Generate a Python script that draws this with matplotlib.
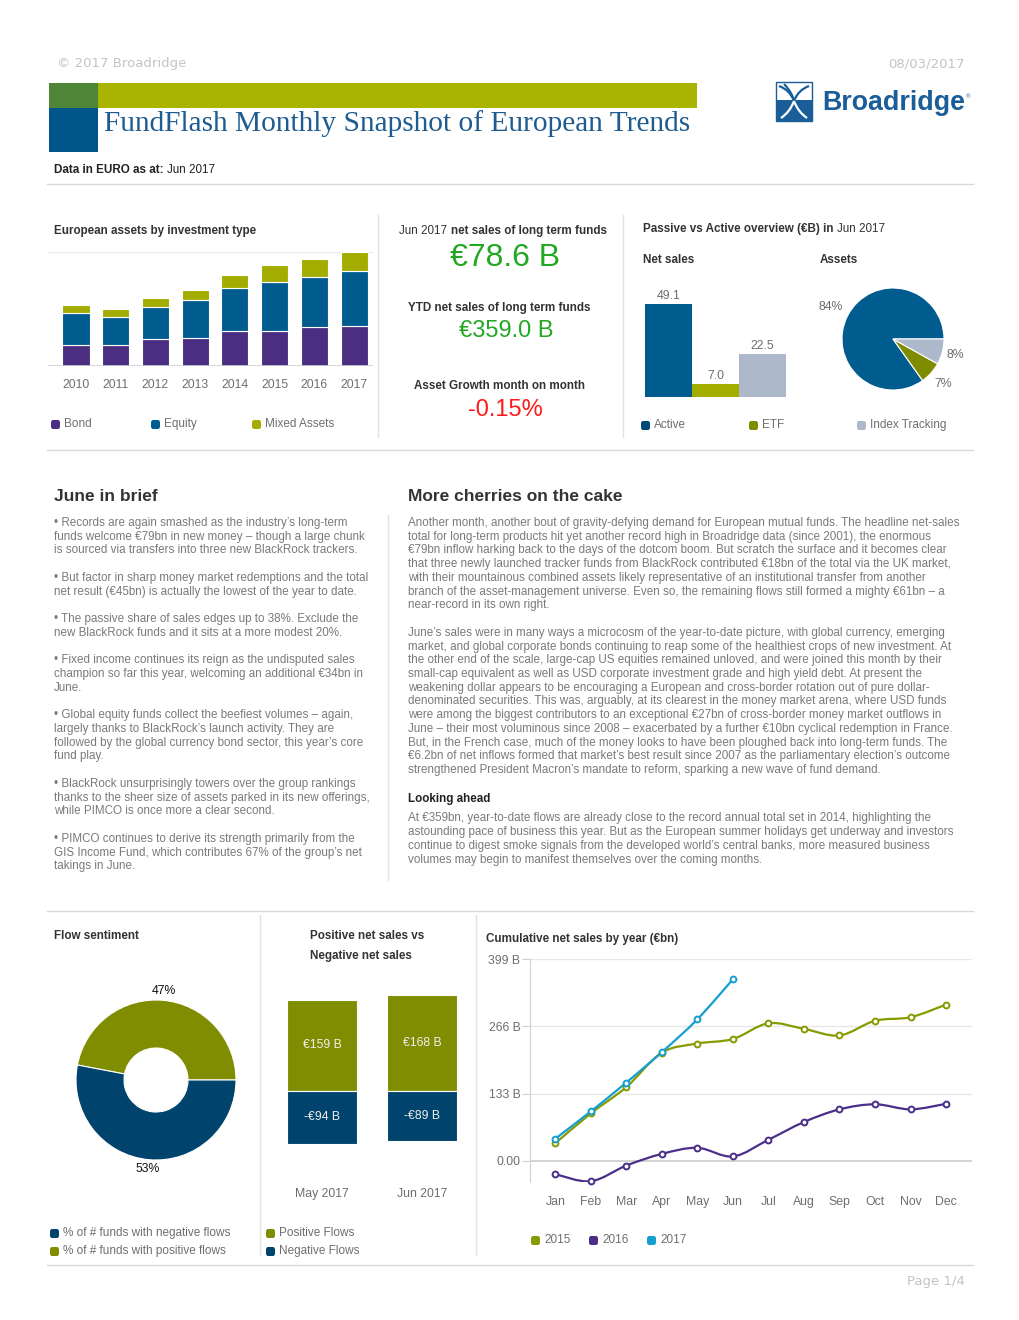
import numpy as np
import matplotlib
matplotlib.use("Agg")
import matplotlib.pyplot as plt
from matplotlib.patches import Rectangle, FancyBboxPatch, PathPatch
from matplotlib.path import Path
from matplotlib.lines import Line2D
from matplotlib.transforms import Bbox

# ---------------- data ----------------
asset_years = ['2010', '2011', '2012', '2013', '2014', '2015', '2016', '2017']
bond = [1130, 1130, 1430, 1500, 1820, 1855, 2030, 2120]
equity = [1660, 1450, 1660, 1960, 2280, 2540, 2630, 2860]
mixed = [405, 405, 475, 565, 705, 935, 990, 1020]
asset_names = ['Bond', 'Equity', 'Mixed Assets']

ps_names = ['Active', 'ETF', 'Index Tracking']
ps_net_sales = [49.1, 7.0, 22.5]
ps_assets = [84, 7, 8]

month_sales = '€78.6 B'
ytd_sales = '€359.0 B'
asset_growth = '-0.15%'

sentiment_names = ['% of # funds with positive flows', '% of # funds with negative flows']
sentiment_pct = [47, 53]

flow_months = ['May 2017', 'Jun 2017']
positive_flows = [159, 168]
negative_flows = [-94, -89]

months = ['Jan', 'Feb', 'Mar', 'Apr', 'May', 'Jun', 'Jul', 'Aug', 'Sep', 'Oct', 'Nov', 'Dec']
cum_2015 = [35, 94, 146, 214, 232, 241, 272, 261, 248, 277, 284, 309]
cum_2016 = [-26, -40, -9, 14, 26, 9, 42, 77, 102, 112, 102, 113]
cum_2017 = [44, 98, 155, 215, 280, 359]
cum_ticks = [0, 133, 266, 399]
cum_ticklabels = ['0.00', '133 B', '266 B', '399 B']

brief_lines = [
    "• Records are again smashed as the industry’s long-term",
    "funds welcome €79bn in new money – though a large chunk",
    "is sourced via transfers into three new BlackRock trackers.",
    "",
    "• But factor in sharp money market redemptions and the total",
    "net result (€45bn) is actually the lowest of the year to date.",
    "",
    "• The passive share of sales edges up to 38%. Exclude the",
    "new BlackRock funds and it sits at a more modest 20%.",
    "",
    "• Fixed income continues its reign as the undisputed sales",
    "champion so far this year, welcoming an additional €34bn in",
    "June.",
    "",
    "• Global equity funds collect the beefiest volumes – again,",
    "largely thanks to BlackRock’s launch activity. They are",
    "followed by the global currency bond sector, this year’s core",
    "fund play.",
    "",
    "• BlackRock unsurprisingly towers over the group rankings",
    "thanks to the sheer size of assets parked in its new offerings,",
    "while PIMCO is once more a clear second.",
    "",
    "• PIMCO continues to derive its strength primarily from the",
    "GIS Income Fund, which contributes 67% of the group’s net",
    "takings in June.",
]

cherries_lines = [
    "Another month, another bout of gravity-defying demand for European mutual funds. The headline net-sales",
    "total for long-term products hit yet another record high in Broadridge data (since 2001), the enormous",
    "€79bn inflow harking back to the days of the dotcom boom. But scratch the surface and it becomes clear",
    "that three newly launched tracker funds from BlackRock contributed €18bn of the total via the UK market,",
    "with their mountainous combined assets likely representative of an institutional transfer from another",
    "branch of the asset-management universe. Even so, the remaining flows still formed a mighty €61bn – a",
    "near-record in its own right.",
    "",
    "June’s sales were in many ways a microcosm of the year-to-date picture, with global currency, emerging",
    "market, and global corporate bonds continuing to reap some of the healthiest crops of new investment. At",
    "the other end of the scale, large-cap US equities remained unloved, and were joined this month by their",
    "small-cap equivalent as well as USD corporate investment grade and high yield debt. At present the",
    "weakening dollar appears to be encouraging a European and cross-border rotation out of pure dollar-",
    "denominated securities. This was, arguably, at its clearest in the money market arena, where USD funds",
    "were among the biggest contributors to an exceptional €27bn of cross-border money market outflows in",
    "June – their most voluminous since 2008 – exacerbated by a further €10bn cyclical redemption in France.",
    "But, in the French case, much of the money looks to have been ploughed back into long-term funds. The",
    "€6.2bn of net inflows formed that market’s best result since 2007 as the parliamentary election’s outcome",
    "strengthened President Macron’s mandate to reform, sparking a new wave of fund demand.",
]

ahead_lines = [
    "At €359bn, year-to-date flows are already close to the record annual total set in 2014, highlighting the",
    "astounding pace of business this year. But as the European summer holidays get underway and investors",
    "continue to digest smoke signals from the developed world’s central banks, more measured business",
    "volumes may begin to manifest themselves over the coming months.",
]

# ---------------- style ----------------
W, H = 1020, 1320
plt.rcParams['font.family'] = ['Liberation Sans', 'DejaVu Sans']

FS = 8.4          # body / heading text size
DARK = '#333333'
GRAY = '#6e6e6e'
BODY = '#7a7a7a'
SEP = '#d9d9d9'
PURPLE = '#4a2e82'
BLUE = '#005c8f'
NAVY = '#00446e'
OLIVE_L = '#a3ad00'
OLIVE = '#808d00'
LIGHTBLUE = '#adb8ca'
GREEN = '#22a822'

fig = plt.figure(figsize=(W / 100, H / 100), dpi=100)
renderer = fig.canvas.get_renderer()


def fx(x):
    return x / W


def fy(y):
    return 1 - y / H


def txt(x, y, s, **kw):
    kw.setdefault('va', 'center')
    return fig.text(fx(x), fy(y), s, **kw)


def axes_px(l, t, r, b):
    return fig.add_axes([l / W, 1 - b / H, (r - l) / W, (b - t) / H])


def hline(x0, x1, y, c=SEP, lw=1.0):
    fig.add_artist(Line2D([fx(x0), fx(x1)], [fy(y), fy(y)], color=c, lw=lw))


def vline(x, y0, y1, c='#e2e2e2', lw=1.0):
    fig.add_artist(Line2D([fx(x), fx(x)], [fy(y0), fy(y1)], color=c, lw=lw))


def rect(x0, y0, x1, y1, color):
    fig.add_artist(Rectangle((fx(x0), fy(y1)), (x1 - x0) / W, (y1 - y0) / H,
                             facecolor=color, edgecolor='none', transform=fig.transFigure))


def legend_item(x, y, color, label, size=8.5):
    fig.add_artist(FancyBboxPatch((fx(x + 1), fy(y + 5)), 9 / W, 9 / H,
                                  boxstyle='round,pad=0,rounding_size=0.002',
                                  facecolor=color, edgecolor='none', transform=fig.transFigure))
    txt(x + 14, y, label, fontsize=size, color=GRAY)


def rich(x, y, parts, size=FS, ha='left', gap=4):
    arts = []
    cur = x
    for s, w, c in parts:
        t = txt(cur, y, s, fontsize=size, fontweight=w, color=c, ha='left')
        cur += t.get_window_extent(renderer=renderer).width + gap
        arts.append(t)
    if ha == 'center':
        shift = (cur - gap - x) / 2
        for t in arts:
            px, py = t.get_position()
            t.set_position((px - shift / W, py))
    return arts


def clean(ax):
    for s in ax.spines.values():
        s.set_visible(False)
    ax.set_facecolor('none')


def smooth_path(xs, ys):
    # cubic bezier through the points (catmull-rom style control points)
    xs = np.asarray(xs, float)
    ys = np.asarray(ys, float)
    verts = [(xs[0], ys[0])]
    codes = [Path.MOVETO]
    n = len(xs)
    for i in range(n - 1):
        x0, y0 = (xs[i - 1], ys[i - 1]) if i > 0 else (xs[i], ys[i])
        x3, y3 = (xs[i + 2], ys[i + 2]) if i + 2 < n else (xs[i + 1], ys[i + 1])
        c1 = (xs[i] + (xs[i + 1] - x0) / 6, ys[i] + (ys[i + 1] - y0) / 6)
        c2 = (xs[i + 1] - (x3 - xs[i]) / 6, ys[i + 1] - (y3 - ys[i]) / 6)
        verts += [c1, c2, (xs[i + 1], ys[i + 1])]
        codes += [Path.CURVE4] * 3
    return Path(verts, codes)


# ---------------- header ----------------
txt(57, 64, '© 2017 Broadridge', fontsize=9.5, color='#c4c4c4', family='DejaVu Sans')
txt(965, 64, '08/03/2017', fontsize=9.5, color='#c4c4c4', family='DejaVu Sans', ha='right')

rect(49, 83, 98, 108, '#4f8537')
rect(98, 83, 697, 108, '#a9b400')
rect(49, 108, 98, 152, '#00558b')
txt(104, 124, 'FundFlash Monthly Snapshot of European Trends', fontsize=21.2,
    color='#1d5b90', family=['Liberation Serif', 'DejaVu Serif'])

# logo
LOGO = '#1a5e99'
fig.add_artist(Rectangle((fx(776), fy(121)), 36 / W, 39 / H, facecolor='white',
                         edgecolor=LOGO, lw=1, transform=fig.transFigure))
rect(776, 100, 812, 121, LOGO)
for (a, b, c) in [((779, 86), (790, 90), (794, 101)), ((809, 86), (798, 90), (794, 101)),
                  ((784, 84), (792, 92), (794, 101))]:
    p = Path([(fx(a[0]), fy(a[1])), (fx(b[0]), fy(b[1])), (fx(c[0]), fy(c[1]))],
             [Path.MOVETO, Path.CURVE3, Path.CURVE3])
    fig.add_artist(PathPatch(p, fill=False, edgecolor=LOGO, lw=1.6, transform=fig.transFigure))
for (a, b, c) in [((794, 101), (790, 112), (781, 118)), ((794, 101), (798, 112), (807, 118))]:
    p = Path([(fx(a[0]), fy(a[1])), (fx(b[0]), fy(b[1])), (fx(c[0]), fy(c[1]))],
             [Path.MOVETO, Path.CURVE3, Path.CURVE3])
    fig.add_artist(PathPatch(p, fill=False, edgecolor='white', lw=1.6, transform=fig.transFigure))
logo_t = txt(822, 103, 'Broadridge', fontsize=19.3, fontweight='bold', color=LOGO)
lx = 822 + logo_t.get_window_extent(renderer=renderer).width
txt(lx + 1, 97, '®', fontsize=4.5, color=LOGO)

rich(54, 170, [('Data in EURO as at:', 'bold', '#222222'), ('Jun 2017', 'normal', '#222222')], size=FS)
hline(47, 973, 184)

# ---------------- top row ----------------
txt(54, 231, 'European assets by investment type', fontsize=FS, fontweight='bold', color=DARK)
ax1 = axes_px(48, 252, 373, 366)
x1 = np.arange(len(asset_years))
ax1.bar(x1, bond, 0.68, color=PURPLE, edgecolor='white', lw=0.8)
ax1.bar(x1, equity, 0.68, bottom=bond, color=BLUE, edgecolor='white', lw=0.8)
ax1.bar(x1, mixed, 0.68, bottom=np.add(bond, equity), color=OLIVE_L, edgecolor='white', lw=0.8)
ax1.set_xlim(-0.705, 7.478)
ax1.set_ylim(0, 6000)
clean(ax1)
ax1.axhline(6000, color='#ececec', lw=1, zorder=0)
ax1.axhline(0, color='#cfcfcf', lw=1.2, zorder=3)
ax1.set_yticks([])
ax1.set_xticks(x1)
ax1.set_xticklabels(asset_years, fontsize=8.8, color=GRAY)
ax1.tick_params(axis='x', length=0, pad=9)
for xx, name, col in zip([50, 150, 251], asset_names, [PURPLE, BLUE, OLIVE_L]):
    legend_item(xx, 424, col, name)

vline(378, 215, 437)
vline(623, 215, 437)

rich(503, 231, [('Jun 2017', 'normal', DARK), ('net sales of long term funds', 'bold', DARK)],
     size=FS, ha='center')
txt(505, 258, month_sales, fontsize=23, color=GREEN, ha='center')
txt(499, 308, 'YTD net sales of long term funds', fontsize=FS, fontweight='bold', color=DARK, ha='center')
txt(506, 331, ytd_sales, fontsize=17, color=GREEN, ha='center')
txt(500, 386, 'Asset Growth month on month', fontsize=FS, fontweight='bold', color=DARK, ha='center')
txt(505, 410, asset_growth, fontsize=17, color='#ff1a1a', ha='center')

rich(643, 229, [('Passive vs Active overview (€B) in', 'bold', DARK), ('Jun 2017', 'normal', DARK)], size=FS)
txt(643, 260, 'Net sales', fontsize=FS, fontweight='bold', color=DARK)
txt(820, 260, 'Assets', fontsize=FS, fontweight='bold', color=DARK)

ax2 = axes_px(645, 292.8, 786, 397)
ps_cols = [BLUE, OLIVE_L, LIGHTBLUE]
ax2.bar(np.arange(3), ps_net_sales, 0.99, color=ps_cols, edgecolor='none')
for i, v in enumerate(ps_net_sales):
    ax2.annotate(f'{v:.1f}', (i, v), xytext=(0, 1.5), textcoords='offset points',
                 ha='center', va='bottom', fontsize=8.8, color=GRAY)
ax2.set_xlim(-0.5, 2.5)
ax2.set_ylim(0, 55)
clean(ax2)
ax2.set_xticks([])
ax2.set_yticks([])

ax3 = axes_px(842, 288, 944, 390)
wedges, _ = ax3.pie(ps_assets, colors=[BLUE, '#7f8c00', LIGHTBLUE], startangle=0,
                    counterclock=True, wedgeprops=dict(edgecolor='white', lw=0.8))
ax3.set_xlim(-1, 1)
ax3.set_ylim(-1, 1)
ax3.set_aspect('equal')
for w, v, d in zip(wedges, ps_assets, [1.38, 1.32, 1.26]):
    ang = np.deg2rad((w.theta1 + w.theta2) / 2)
    ax3.text(d * np.cos(ang), d * np.sin(ang), f'{v}%', ha='center', va='center',
             fontsize=8.8, color=GRAY, clip_on=False)
for xx, name, col in zip([640, 748, 856], ps_names, ['#004a78', '#7f8c00', LIGHTBLUE]):
    legend_item(xx, 425, col, name)

hline(47, 973, 450)

# ---------------- text section ----------------
txt(54, 497, 'June in brief', fontsize=12.5, fontweight='bold', color=DARK)
txt(408, 497, 'More cherries on the cake', fontsize=12.5, fontweight='bold', color=DARK)
vline(388, 515, 880)

y = 523
for line in brief_lines:
    if line:
        txt(54, y, line, fontsize=FS, color=BODY)
    y += 13.73

clip = Bbox([[0, H - 776], [W, H]])
y = 523
for line in cherries_lines:
    if line:
        t = txt(408, y, line, fontsize=FS, color=BODY)
        t.set_clip_box(clip)
        t.set_clip_on(True)
    y += 13.73

txt(408, 799, 'Looking ahead', fontsize=FS, fontweight='bold', color='#222222')
y = 818
for line in ahead_lines:
    txt(408, y, line, fontsize=FS, color=BODY)
    y += 13.9

hline(47, 973, 911)

# ---------------- bottom row ----------------
txt(54, 936, 'Flow sentiment', fontsize=FS, fontweight='bold', color=DARK)
ax4 = axes_px(76, 1000, 236, 1160)
dw, _ = ax4.pie(sentiment_pct, colors=[OLIVE, NAVY], startangle=0, counterclock=True,
                wedgeprops=dict(width=0.6, edgecolor='white', lw=0.8))
ax4.set_xlim(-1, 1)
ax4.set_ylim(-1, 1)
ax4.set_aspect('equal')
for w, v in zip(dw, sentiment_pct):
    ang = np.deg2rad((w.theta1 + w.theta2) / 2)
    ax4.text(1.12 * np.cos(ang), 1.12 * np.sin(ang), f'{v}%', ha='center', va='center',
             fontsize=8.8, color='#111111', clip_on=False)
legend_item(49, 1233, NAVY, sentiment_names[1])
legend_item(49, 1251, OLIVE, sentiment_names[0])

vline(260, 915, 1255)
vline(476, 915, 1255)

txt(310, 936, 'Positive net sales vs', fontsize=FS, fontweight='bold', color=DARK)
txt(310, 956, 'Negative net sales', fontsize=FS, fontweight='bold', color=DARK)
ax5 = axes_px(272, 991, 472, 1147.7)
x5 = np.arange(len(flow_months))
ax5.bar(x5, positive_flows, 0.7, color=OLIVE, edgecolor='white', lw=0.8)
ax5.bar(x5, negative_flows, 0.7, color=NAVY, edgecolor='white', lw=0.8)
for i in range(len(flow_months)):
    ax5.text(i, positive_flows[i] / 2, f'€{positive_flows[i]} B', ha='center', va='center',
             fontsize=8.8, color='#f0f0f0')
    ax5.text(i, negative_flows[i] / 2, f'-€{-negative_flows[i]} B', ha='center', va='center',
             fontsize=8.8, color='#f0f0f0')
ax5.set_xlim(-0.5, 1.5)
ax5.set_ylim(-100, 175)
clean(ax5)
ax5.set_yticks([])
ax5.set_xticks(x5)
ax5.set_xticklabels(flow_months, fontsize=8.8, color=GRAY)
ax5.tick_params(axis='x', length=0, pad=29)
legend_item(265, 1233, OLIVE, 'Positive Flows')
legend_item(265, 1251, NAVY, 'Negative Flows')

txt(486, 939, 'Cumulative net sales by year (€bn)', fontsize=FS, fontweight='bold', color=DARK)
ax6 = axes_px(530, 959, 972, 1182)
clean(ax6)
ax6.set_xlim(-0.712, 11.73)
ax6.set_ylim(-41.5, 399)
for t in cum_ticks[1:]:
    ax6.axhline(t, color='#e8e8e8', lw=1, zorder=0)
ax6.axhline(0, color='#cccccc', lw=1.2, zorder=0)
ax6.spines['left'].set_visible(True)
ax6.spines['left'].set_color('#d0d0d0')
ax6.set_yticks(cum_ticks)
ax6.set_yticklabels(cum_ticklabels, fontsize=8.8, color=GRAY)
ax6.tick_params(axis='y', length=6, color='#d0d0d0', pad=1)
ax6.set_xticks(np.arange(12))
ax6.set_xticklabels(months, fontsize=8.8, color=GRAY)
ax6.tick_params(axis='x', length=0, pad=10)
line_cols = ['#879a00', '#4a2e8a', '#149fd0']
for series, col in zip([cum_2015, cum_2016, cum_2017], line_cols):
    xs = np.arange(len(series))
    ax6.add_patch(PathPatch(smooth_path(xs, series), fill=False, edgecolor=col, lw=1.6, zorder=3))
    ax6.plot(xs, series, 'o', ms=4.2, mfc='white', mec=col, mew=1.4, zorder=4, clip_on=False)
for xx, name, col in zip([530, 588, 646], ['2015', '2016', '2017'], line_cols):
    legend_item(xx, 1240, col, name)

hline(47, 973, 1265)
txt(965, 1281, 'Page 1/4', fontsize=9.5, color='#c4c4c4', family='DejaVu Sans', ha='right')

fig.savefig('out.png', dpi=100)
